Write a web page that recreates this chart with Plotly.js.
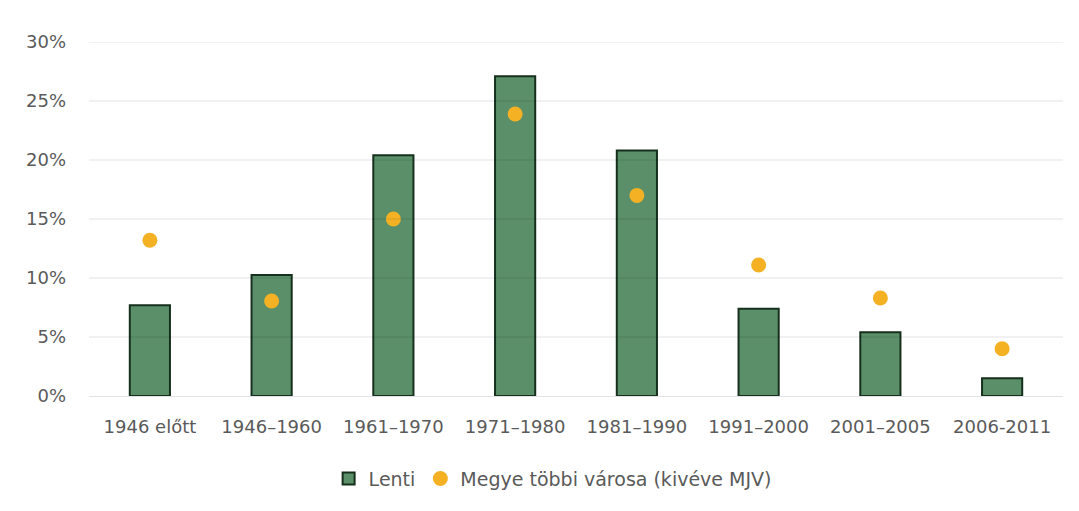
<!DOCTYPE html>
<html>
<head>
<meta charset="utf-8">
<script src="https://cdn.plot.ly/plotly-3.0.1.min.js"></script>
<style>html,body{margin:0;padding:0;background:#fff;}#chart{width:1079px;height:511px;}</style>
</head>
<body>
<div id="chart"></div>
<script>
const categories = ["1946 előtt", "1946–1960", "1961–1970", "1971–1980", "1981–1990", "1991–2000", "2001–2005", "2006-2011"];
const lenti = [0.077, 0.1025, 0.204, 0.271, 0.208, 0.074, 0.054, 0.015];
const megye = [0.132, 0.0805, 0.150, 0.239, 0.170, 0.111, 0.083, 0.040];
const yTicks = [0, 0.05, 0.10, 0.15, 0.20, 0.25, 0.30];
const yTickText = ["0%", "5%", "10%", "15%", "20%", "25%", "30%"];

const txt = '#5a5a5a';
const fam = 'DejaVu Sans, sans-serif';
const traces = [
  {
    type: 'bar', name: 'Lenti', x: categories, y: lenti,
    marker: {color: '#5b8f69', line: {color: '#16301d', width: 2}},
    hoverinfo: 'skip'
  },
  {
    type: 'scatter', mode: 'markers', name: 'Megye többi városa (kivéve MJV)',
    x: categories, y: megye,
    marker: {color: '#f4b124', size: 15, symbol: 'circle', line: {width: 0}},
    hoverinfo: 'skip'
  }
];

// grid lines drawn above bars (translucent dark so they read light on white, darker on green)
const shapes = yTicks.slice(1).map(v => ({
  type: 'line', xref: 'paper', yref: 'y', x0: 0, x1: 1, y0: v, y1: v,
  layer: 'above', line: {color: 'rgba(0,0,40,0.11)', width: 1.2}
}));

const layout = {
  width: 1079, height: 511,
  margin: {l: 89, r: 16, t: 42, b: 115, autoexpand: false},
  paper_bgcolor: '#ffffff', plot_bgcolor: '#ffffff',
  font: {family: fam, color: txt, size: 18},
  bargap: 0.67,
  showlegend: true,
  legend: {orientation: 'h', x: 0.476, xanchor: 'center', y: -0.18, yanchor: 'top',
           itemwidth: 30,
           font: {family: fam, size: 19, color: txt}, traceorder: 'normal'},
  xaxis: {
    type: 'category', showgrid: false, zeroline: false, showline: true,
    linecolor: 'rgba(0,0,40,0.11)', linewidth: 1.2, ticks: '',
    ticklabelstandoff: 14, automargin: false,
    tickfont: {family: fam, size: 18, color: txt}, fixedrange: true
  },
  yaxis: {
    range: [0, 0.3], tickvals: yTicks, ticktext: yTickText,
    showgrid: false, zeroline: false, showline: false, ticks: '',
    ticklabelstandoff: 22, automargin: false,
    tickfont: {family: fam, size: 18, color: txt}, fixedrange: true
  },
  shapes: shapes
};

Plotly.newPlot('chart', traces, layout, {displayModeBar: false, staticPlot: true});
</script>
</body>
</html>
